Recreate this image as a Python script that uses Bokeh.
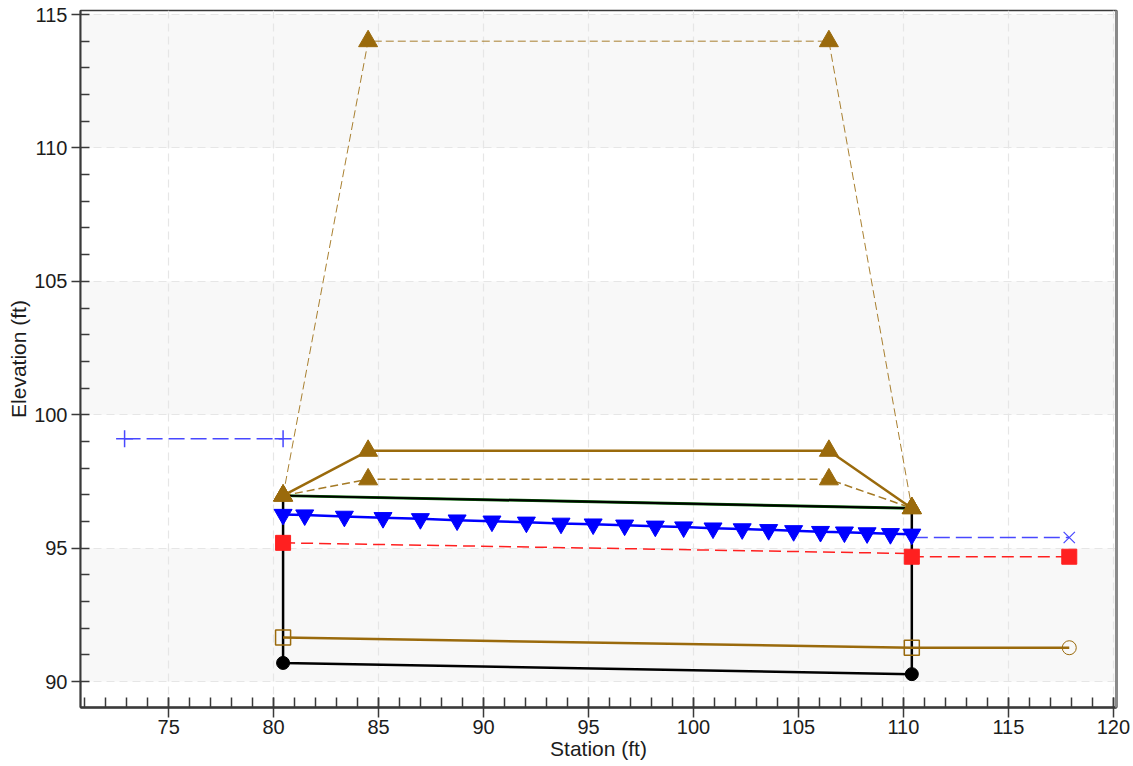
from bokeh.plotting import figure
from bokeh.models import Range1d, SingleIntervalTicker, BoxAnnotation, LinearAxis, FixedTicker
from bokeh.embed import file_html
from bokeh.resources import INLINE

# ---------------- data ----------------
x_ticks = [75, 80, 85, 90, 95, 100, 105, 110, 115, 120]
y_ticks = [90, 95, 100, 105, 110, 115]

culvert_station = [80.45, 110.4]
culvert_invert = [90.7, 90.28]
culvert_crown = [96.97, 96.5]

road_station = [80.45, 84.5, 106.45, 110.4]
road_top = [96.97, 98.65, 98.65, 96.5]
road_mid = [96.97, 97.58, 97.58, 96.5]
road_high = [96.97, 114.0, 114.0, 96.5]

ws_station = [80.45, 81.48, 83.37, 85.21, 86.99, 88.74, 90.40, 92.04, 93.69, 95.22, 96.72,
              98.18, 99.53, 100.93, 102.32, 103.58, 104.77, 106.05, 107.19, 108.27, 109.38, 110.4]
ws_elev = [96.26, 96.24, 96.19, 96.14, 96.10, 96.05, 96.01, 95.97, 95.93, 95.90, 95.86,
           95.82, 95.79, 95.75, 95.72, 95.69, 95.65, 95.62, 95.60, 95.57, 95.54, 95.52]

hw_station = [72.9, 80.45]
hw_elev = [99.1, 99.1]

tw_station = [110.4, 117.9]
tw_elev = [95.4, 95.4]

crit_station = [80.45, 110.4]
crit_elev = [95.2, 94.8]

out_station = [110.4, 117.9]
out_elev = [94.68, 94.68]

chan_station = [80.45, 110.4, 117.9]
chan_elev = [91.65, 91.27, 91.27]

# ---------------- figure ----------------
p = figure(width=1130, height=766, output_backend="svg", toolbar_location=None,
           x_range=Range1d(70.8, 120.15), y_range=Range1d(89.03, 115.15),
           min_border_left=80, min_border_right=14, min_border_top=10, min_border_bottom=59)
p.background_fill_color = "white"
p.border_fill_color = "white"
p.outline_line_color = "#3a3a3a"
p.outline_line_width = 1.5

FONT = "Liberation Sans"
TXT = "#1c1c1c"
AX = "#3a3a3a"

xt = SingleIntervalTicker(interval=5, num_minor_ticks=5)
yt = SingleIntervalTicker(interval=5, num_minor_ticks=5)
p.xaxis.ticker = xt
p.yaxis.ticker = yt
p.xgrid.ticker = xt
p.ygrid.ticker = yt

for ax in (p.xaxis[0], p.yaxis[0]):
    ax.axis_line_color = AX
    ax.axis_line_width = 2
    ax.major_tick_line_color = AX
    ax.minor_tick_line_color = AX
    ax.major_tick_line_width = 1.5
    ax.minor_tick_line_width = 1.5
    ax.major_label_text_font = FONT
    ax.major_label_text_font_size = "20px"
    ax.major_label_text_color = TXT
    ax.axis_label_text_font = FONT
    ax.axis_label_text_font_size = "21px"
    ax.axis_label_text_font_style = "normal"
    ax.axis_label_text_color = TXT

p.yaxis.axis_label = "Elevation (ft)"
p.yaxis.major_tick_in = 0
p.yaxis.major_tick_out = 9
p.yaxis.minor_tick_in = 9
p.yaxis.minor_tick_out = 0
p.yaxis.major_label_standoff = 4
p.yaxis.axis_label_standoff = 1

p.xaxis.axis_label = "Station (ft)"
p.xaxis.axis_line_width = 2.5
p.xaxis.major_tick_in = 10
p.xaxis.major_tick_out = 10
p.xaxis.minor_tick_in = 10
p.xaxis.minor_tick_out = 0
p.xaxis.major_label_standoff = 2
p.xaxis.axis_label_standoff = 0

# right-hand frame shadow: a spacer axis, then a grey line axis beyond it
spacer = LinearAxis(ticker=FixedTicker(ticks=[]), axis_line_color=None,
                    major_tick_out=1, major_tick_in=0, minor_tick_out=0, minor_tick_in=0)
shadow = LinearAxis(ticker=FixedTicker(ticks=[]), axis_line_color="#8a8a8a", axis_line_width=3,
                    major_tick_out=0, major_tick_in=0, minor_tick_out=0, minor_tick_in=0)
p.add_layout(spacer, "right")
p.add_layout(shadow, "right")

for g in (p.xgrid[0], p.ygrid[0]):
    g.grid_line_color = "#e6e6e6"
    g.grid_line_width = 1.2
    g.grid_line_dash = "8 5"

# alternating background bands
for i in range(0, len(y_ticks) - 1, 2):
    p.add_layout(BoxAnnotation(bottom=y_ticks[i], top=y_ticks[i + 1], fill_color="#f8f8f8",
                               fill_alpha=1, line_alpha=0, level="image"))

BROWN = "#9a6a0c"
BLUE = "#0000ff"
LBLUE = "#4848ff"
RED = "#ff2020"
GREEN = "#0b6b0b"

# culvert outline
cs, ci, cc = culvert_station, culvert_invert, culvert_crown
p.line([cs[0], cs[0], cs[1], cs[1]], [cc[0], ci[0], ci[1], cc[1]], line_color="black", line_width=2.5)
p.line(cs, cc, line_color=GREEN, line_width=3)
p.line(cs, cc, line_color="black", line_width=2)
p.scatter(cs, cc, marker="circle", size=9, color=GREEN)
p.scatter(cs, ci, marker="circle", size=13, color="black")

# channel / outlet bottom (brown hollow)
p.line(chan_station, chan_elev, line_color=BROWN, line_width=2.5)
p.scatter(chan_station[:2], chan_elev[:2], marker="square", size=15, fill_alpha=0,
          line_color=BROWN, line_width=1.5)
p.scatter(chan_station[2:], chan_elev[2:], marker="circle", size=14, fill_alpha=0,
          line_color=BROWN, line_width=1)

# critical depth (red)
p.line(crit_station, crit_elev, line_color=RED, line_width=1.5, line_dash="12 6")
p.line(out_station, out_elev, line_color=RED, line_width=1.5, line_dash="12 6")
p.scatter(crit_station[:1], crit_elev[:1], marker="square", size=15, color=RED)
p.scatter(out_station, out_elev, marker="square", size=15, color=RED)

# headwater / tailwater (blue dashed)
p.line(hw_station, hw_elev, line_color=LBLUE, line_width=1.5, line_dash="16 6")
p.scatter(hw_station, hw_elev, marker="cross", size=17, line_color=LBLUE, line_width=1.5)
p.line(tw_station, tw_elev, line_color=LBLUE, line_width=1.5, line_dash="16 6")
p.scatter(tw_station[1:], tw_elev[1:], marker="x", size=16, line_color=LBLUE, line_width=1.2)

# water surface
p.line(ws_station, ws_elev, line_color=BLUE, line_width=2.5)
p.scatter(ws_station, ws_elev, marker="inverted_triangle", size=18, color=BLUE)

# roadway lines
p.line(road_station, road_high, line_color=BROWN, line_width=1, line_dash="8 4", line_alpha=0.85)
p.line(road_station, road_mid, line_color=BROWN, line_width=1.5, line_dash="8 4", line_alpha=0.9)
p.line(road_station, road_top, line_color=BROWN, line_width=2.5)
for ys in (road_high, road_mid, road_top):
    p.scatter(road_station, ys, marker="triangle", size=19, color=BROWN)

open("out.html", "w").write(file_html(p, INLINE))
